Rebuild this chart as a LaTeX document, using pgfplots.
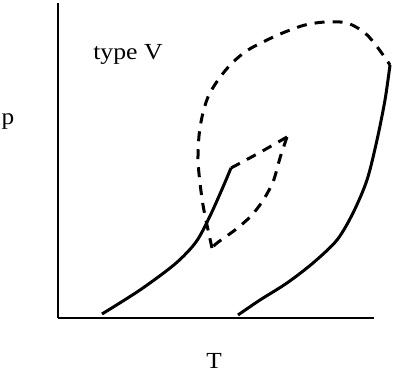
\documentclass[border=0pt]{standalone}
\usepackage{fontspec}
\setmainfont{Liberation Serif}
\usepackage{pgfplots}
\pgfplotsset{compat=1.18}
\begin{document}
\begin{tikzpicture}
\path[use as bounding box, fill=white] (0,0) rectangle (396bp,373bp);
\begin{axis}[
  at={(58bp,55bp)}, anchor=south west,
  scale only axis, width=316bp, height=315bp,
  xmin=58, xmax=374, ymin=0, ymax=315,
  axis x line=bottom, axis y line=left,
  axis line style={-, line width=2.5bp, black},
  xtick=\empty, ytick=\empty, clip=false,
  every axis plot/.append style={line width=3bp, black, line join=round},
]
% solid curve 1
\addplot[smooth] coordinates {(102,4) (140,28) (175,54) (196,76) (210,102) (223,131) (231,150)};
% dashed segment from end of solid 1
\addplot[sharp plot, dash pattern=on 10bp off 8bp] coordinates {(231,150) (259,165) (287,181)};
% dashed return
\addplot[smooth, dash pattern=on 10bp off 8bp] coordinates {(287,181) (280,160) (273,136) (262,116) (250,101) (235,88) (217,75) (212,70)};
% dashed big arc
\addplot[smooth, dash pattern=on 10bp off 8bp] coordinates {(212,70) (207,93) (203,113) (200,135) (198,158) (199,182) (202,201) (208,221) (218,238) (232,255) (248,268) (267,278) (285,286) (305,293) (325,296) (347,295) (365,285) (378,270) (390,253)};
% solid curve 2
\addplot[smooth] coordinates {(390,253) (385,218) (377,178) (367,138) (353,105) (337,78) (313,55) (287,35) (260,18) (238,3)};
\end{axis}
\node[inner sep=0pt, xscale=1.1] at (8bp,251bp) {\fontsize{23bp}{27bp}\selectfont p};
\node[inner sep=0pt, xscale=1.1] at (214bp,12bp) {\fontsize{23bp}{27bp}\selectfont T};
\node[inner sep=0pt, xscale=1.12] at (128bp,318.5bp) {\fontsize{23bp}{27bp}\selectfont type V};
\end{tikzpicture}
\end{document}
